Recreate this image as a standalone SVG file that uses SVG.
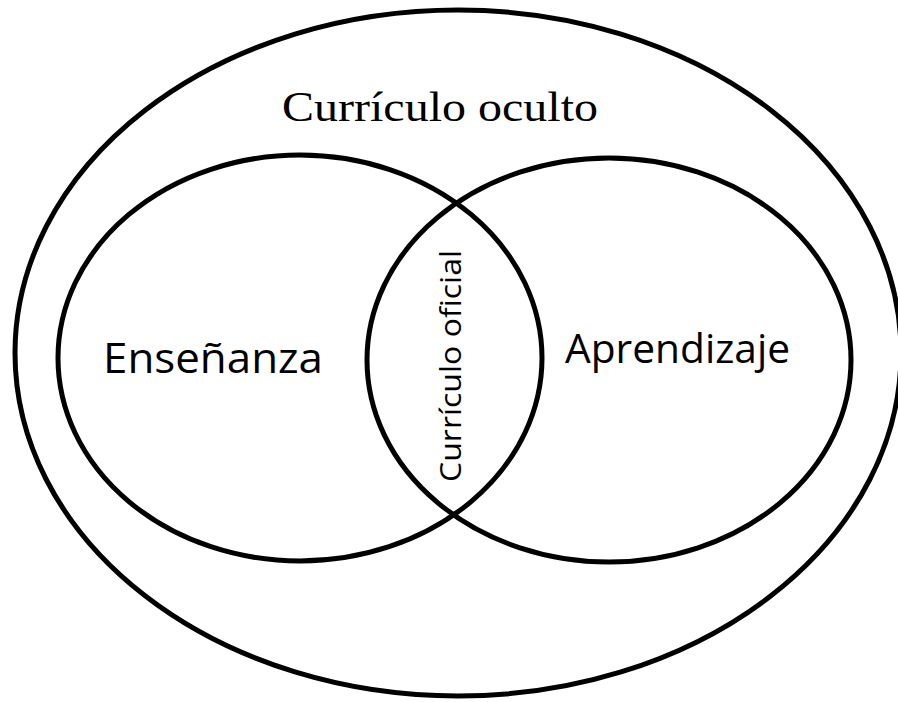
<svg xmlns="http://www.w3.org/2000/svg" width="898" height="702" viewBox="0 0 898 702">
<style>
.shape{fill:none;stroke:#000;stroke-width:5}
.serif{font-family:"Liberation Serif","Times New Roman",serif;fill:#000}
.sans{font-family:"Open Sans","Liberation Sans",Arial,sans-serif;fill:#000}
</style>
<rect width="898" height="702" fill="#fff"/>
<g id="curriculo-oculto">
<ellipse class="shape" cx="458" cy="353" rx="443" ry="343"/>
<text class="serif" x="440" y="121" font-size="42" text-anchor="middle" textLength="316" lengthAdjust="spacingAndGlyphs">Currículo oculto</text>
</g>
<g id="ensenanza">
<ellipse class="shape" cx="300" cy="358" rx="242" ry="203"/>
<text class="sans" x="103" y="373" font-size="42" textLength="220" lengthAdjust="spacingAndGlyphs">Enseñanza</text>
</g>
<g id="aprendizaje">
<ellipse class="shape" cx="609" cy="360" rx="242" ry="202"/>
<text class="sans" x="565" y="363" font-size="40" textLength="225" lengthAdjust="spacingAndGlyphs">Aprendizaje</text>
</g>
<g id="curriculo-oficial">
<text class="sans" transform="translate(461,366) rotate(-90)" x="0" y="0" font-size="30" text-anchor="middle" textLength="232" lengthAdjust="spacingAndGlyphs">Currículo oficial</text>
</g>
<g id="connectors"></g>
</svg>
